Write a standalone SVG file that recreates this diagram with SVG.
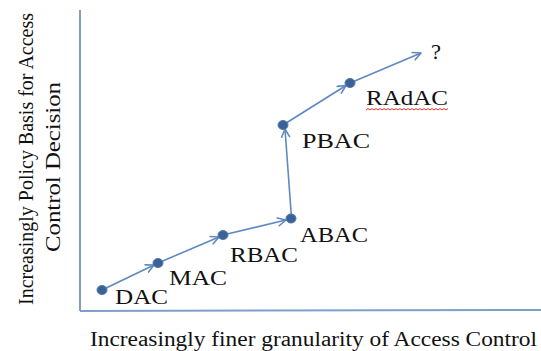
<svg xmlns="http://www.w3.org/2000/svg" width="541" height="351" viewBox="0 0 541 351">
  <style>
    .axis { stroke: #7f9fcb; stroke-width: 2; fill: none; }
    .link { stroke: #5f88c0; stroke-width: 1.6; fill: none; marker-end: url(#chevron); }
    .dot { fill: #3a6296; stroke: #4f79ad; stroke-width: 1; }
    .lbl { font-family: "Liberation Serif", "Times New Roman", serif; font-size: 21px; fill: #111; }
    .axlbl { font-family: "Liberation Serif", "Times New Roman", serif; font-size: 20px; fill: #111; }
    .squiggle { stroke: #e03030; stroke-width: 1; fill: none; }
  </style>
  <defs>
    <marker id="chevron" viewBox="0 0 10 10" refX="9" refY="5" markerWidth="10" markerHeight="10" markerUnits="userSpaceOnUse" orient="auto">
      <path d="M1,1 L9,5 L1,9" fill="none" stroke="#5f88c0" stroke-width="1.6" stroke-linecap="round" stroke-linejoin="round"/>
    </marker>
  </defs>

  <rect width="541" height="351" fill="#ffffff"/>

  <!-- axes -->
  <g id="axes">
    <line class="axis" x1="80" y1="10" x2="80" y2="311"/>
    <line class="axis" x1="80" y1="311" x2="541" y2="310"/>
  </g>

  <!-- axis titles -->
  <g id="y-title">
    <text class="axlbl" transform="translate(33,159) rotate(-90)" text-anchor="middle" textLength="292" lengthAdjust="spacingAndGlyphs">Increasingly Policy Basis for Access</text>
    <text class="axlbl" transform="translate(60,167) rotate(-90)" text-anchor="middle" textLength="170" lengthAdjust="spacingAndGlyphs">Control Decision</text>
  </g>
  <g id="x-title">
    <text class="axlbl" x="90" y="346" textLength="447" lengthAdjust="spacingAndGlyphs">Increasingly  finer  granularity  of Access Control</text>
  </g>

  <!-- connectors -->
  <g id="connectors">
    <line class="link" x1="102" y1="290" x2="154" y2="265"/>
    <line class="link" x1="158" y1="263" x2="219" y2="237"/>
    <line class="link" x1="223" y1="235" x2="286" y2="220"/>
    <line class="link" x1="291.5" y1="218" x2="285" y2="129"/>
    <line class="link" x1="283" y1="125" x2="346" y2="85.5"/>
    <line class="link" x1="350" y1="83" x2="421" y2="53"/>
  </g>

  <!-- nodes -->
  <g id="dac">
    <ellipse class="dot" cx="102" cy="290" rx="5" ry="4.5"/>
    <text class="lbl" x="115" y="304" textLength="53" lengthAdjust="spacingAndGlyphs">DAC</text>
  </g>
  <g id="mac">
    <ellipse class="dot" cx="158" cy="263" rx="5" ry="4.5"/>
    <text class="lbl" x="169" y="285" textLength="58" lengthAdjust="spacingAndGlyphs">MAC</text>
  </g>
  <g id="rbac">
    <ellipse class="dot" cx="223" cy="235" rx="5" ry="4.5"/>
    <text class="lbl" x="230" y="262" textLength="68" lengthAdjust="spacingAndGlyphs">RBAC</text>
  </g>
  <g id="abac">
    <ellipse class="dot" cx="291" cy="218.5" rx="5" ry="4.5"/>
    <text class="lbl" x="300" y="242" textLength="68" lengthAdjust="spacingAndGlyphs">ABAC</text>
  </g>
  <g id="pbac">
    <ellipse class="dot" cx="283" cy="125" rx="5" ry="4.5"/>
    <text class="lbl" x="302" y="148" textLength="68" lengthAdjust="spacingAndGlyphs">PBAC</text>
  </g>
  <g id="radac">
    <ellipse class="dot" cx="350" cy="83" rx="5" ry="4.5"/>
    <text class="lbl" x="366" y="105" textLength="82" lengthAdjust="spacingAndGlyphs">RAdAC</text>
    <path class="squiggle" d="M366,110 l2,-1.5 l2,1.5 l2,-1.5 l2,1.5 l2,-1.5 l2,1.5 l2,-1.5 l2,1.5 l2,-1.5 l2,1.5 l2,-1.5 l2,1.5 l2,-1.5 l2,1.5 l2,-1.5 l2,1.5 l2,-1.5 l2,1.5 l2,-1.5 l2,1.5 l2,-1.5 l2,1.5 l2,-1.5 l2,1.5 l2,-1.5 l2,1.5 l2,-1.5 l2,1.5 l2,-1.5 l2,1.5 l2,-1.5 l2,1.5 l2,-1.5 l2,1.5 l2,-1.5 l2,1.5 l2,-1.5 l2,1.5 l2,-1.5 l2,1.5 l2,-1.5"/>
  </g>
  <g id="next">
    <text class="lbl" x="431" y="59" textLength="10" lengthAdjust="spacingAndGlyphs">?</text>
  </g>
</svg>
